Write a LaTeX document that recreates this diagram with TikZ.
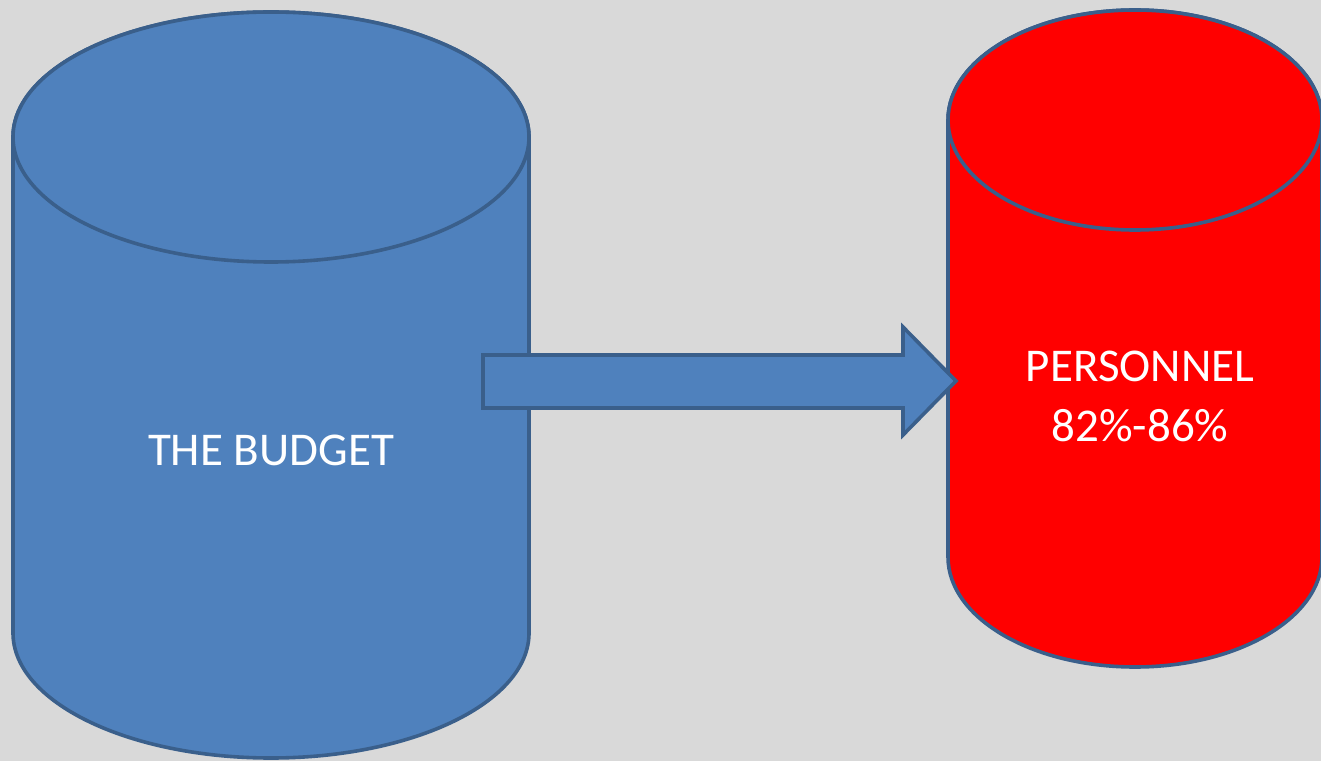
\documentclass[tikz,border=0pt]{standalone}
\usepackage{fontspec}
\setmainfont{Carlito}
\definecolor{bg}{HTML}{D9D9D9}
\definecolor{bluefill}{HTML}{4F81BD}
\definecolor{edge}{HTML}{3A5F8B}
\definecolor{redfill}{HTML}{FF0000}
\begin{document}
\begin{tikzpicture}[x=1pt,y=1pt,
  outl/.style={draw=edge,line width=3.6pt,line join=round},
  lbltext/.style={text=white,font=\fontsize{47}{60}\selectfont,align=center,inner sep=0pt}]
\useasboundingbox (0,0) rectangle (1321,761);
\fill[bg] (0,0) rectangle (1321,761);
% blue cylinder
\filldraw[outl,fill=bluefill] (13,624) -- (13,128) arc[start angle=180,end angle=360,x radius=258,y radius=125] -- (529,624) arc[start angle=0,end angle=180,x radius=258,y radius=125] -- cycle;
\filldraw[outl,fill=bluefill] (271,624) ellipse[x radius=258,y radius=125];
% red cylinder
\filldraw[outl,fill=redfill] (948,641) -- (948,204) arc[start angle=180,end angle=360,x radius=187,y radius=110] -- (1322,641) arc[start angle=0,end angle=180,x radius=187,y radius=110] -- cycle;
\filldraw[outl,fill=redfill] (1135,641) ellipse[x radius=187,y radius=110];
% arrow
\filldraw[outl,fill=bluefill,line join=miter] (483,406) -- (903,406) -- (903,434) -- (956,380) -- (903,326) -- (903,353) -- (483,353) -- cycle;
% labels
\node[lbltext] (budget) at (271,311) {THE BUDGET};
\node[lbltext] (personnel) at (1140,365) {PERSONNEL\\82\%-86\%};
\end{tikzpicture}
\end{document}
